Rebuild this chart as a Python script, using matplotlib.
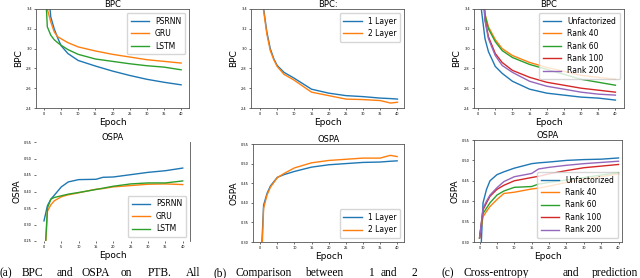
import matplotlib
matplotlib.use("Agg")
import matplotlib.pyplot as plt

# (a) PTB: BPC
ep_a = [0, 1, 2, 3, 4, 5, 7, 10, 15, 20, 25, 30, 35, 40]
psrnn_bpc = [4.2, 3.70, 3.32, 3.20, 3.11, 3.03, 2.95, 2.88, 2.824, 2.773, 2.729, 2.69, 2.66, 2.634]
gru_bpc = [4.0, 3.40, 3.27, 3.17, 3.12, 3.10, 3.06, 3.017, 2.976, 2.942, 2.915, 2.888, 2.871, 2.854]
lstm_bpc = [3.9, 3.22, 3.136, 3.09, 3.06, 3.034, 2.99, 2.942, 2.895, 2.871, 2.847, 2.827, 2.813, 2.786]

# (a) PTB: OSPA
ep_d = [0, 1, 2, 3, 5, 7, 10, 15, 17, 20, 25, 30, 35, 40]
psrnn_ospa = [0.311, 0.357, 0.377, 0.389, 0.414, 0.429, 0.436, 0.437, 0.443, 0.444, 0.451, 0.458, 0.463, 0.471]
gru_ospa = [0.15, 0.34, 0.36, 0.372, 0.384, 0.39, 0.396, 0.407, 0.409, 0.414, 0.418, 0.422, 0.423, 0.421]
lstm_ospa = [0.15, 0.35, 0.377, 0.382, 0.387, 0.392, 0.397, 0.406, 0.410, 0.416, 0.423, 0.426, 0.426, 0.432]

# (b) 1 vs 2 layers
ep_b = [0, 1, 2, 3, 4, 5, 7, 10, 15, 20, 25, 30, 35, 38, 40]
one_bpc = [4.2, 3.42, 3.17, 3.00, 2.90, 2.83, 2.76, 2.70, 2.59, 2.55, 2.525, 2.515, 2.50, 2.495, 2.49]
two_bpc = [4.2, 3.40, 3.15, 2.98, 2.89, 2.82, 2.74, 2.68, 2.56, 2.525, 2.49, 2.485, 2.475, 2.45, 2.458]

ep_e = [0, 1, 2, 3, 5, 7, 10, 15, 20, 25, 30, 35, 38, 40]
one_ospa = [0.2, 0.394, 0.424, 0.443, 0.465, 0.472, 0.48, 0.491, 0.497, 0.50, 0.503, 0.504, 0.506, 0.507]
two_ospa = [0.15, 0.386, 0.42, 0.44, 0.464, 0.475, 0.489, 0.502, 0.508, 0.511, 0.514, 0.514, 0.521, 0.518]

# (c) factorization rank
ep_c = [0, 1, 2, 3, 5, 7, 10, 15, 20, 25, 30, 35, 40]
unf_bpc = [4.0, 3.38, 3.10, 2.97, 2.82, 2.75, 2.67, 2.59, 2.55, 2.53, 2.51, 2.50, 2.48]
r40_bpc = [4.5, 3.80, 3.35, 3.22, 3.09, 3.00, 2.93, 2.86, 2.81, 2.77, 2.73, 2.71, 2.69]
r60_bpc = [4.5, 3.80, 3.34, 3.20, 3.07, 2.98, 2.91, 2.84, 2.79, 2.74, 2.69, 2.66, 2.63]
r100_bpc = [4.5, 3.80, 3.30, 3.12, 2.95, 2.86, 2.78, 2.71, 2.66, 2.63, 2.60, 2.58, 2.56]
r200_bpc = [4.5, 3.80, 3.28, 3.10, 2.93, 2.83, 2.76, 2.67, 2.62, 2.59, 2.56, 2.54, 2.53]

ep_f = [0, 1, 2, 3, 5, 7, 10, 15, 17, 20, 25, 30, 35, 40]
unf_ospa = [0.2, 0.396, 0.429, 0.45, 0.465, 0.472, 0.481, 0.492, 0.494, 0.496, 0.50, 0.502, 0.503, 0.506]
r40_ospa = [0.31, 0.362, 0.375, 0.387, 0.404, 0.419, 0.422, 0.43, 0.432, 0.437, 0.446, 0.454, 0.46, 0.467]
r60_ospa = [0.31, 0.37, 0.383, 0.396, 0.415, 0.425, 0.434, 0.436, 0.442, 0.446, 0.452, 0.458, 0.464, 0.47]
r100_ospa = [0.31, 0.379, 0.396, 0.412, 0.429, 0.439, 0.45, 0.458, 0.461, 0.467, 0.475, 0.482, 0.486, 0.49]
r200_ospa = [0.31, 0.383, 0.40, 0.415, 0.433, 0.448, 0.46, 0.468, 0.479, 0.483, 0.488, 0.492, 0.495, 0.498]

W, H = 640, 278


def rect(l, r, t, b):
    return [l / W, 1 - b / H, (r - l) / W, (b - t) / H]


fig = plt.figure(figsize=(6.4, 2.78), dpi=100)


def style(ax, title, ylabel, ylim, xlim, yticks):
    ax.set_title(title, fontsize=6, pad=1.5)
    ax.set_xlabel("Epoch", fontsize=6.5, labelpad=1)
    ax.set_ylabel(ylabel, fontsize=6.5, labelpad=2)
    ax.set_ylim(*ylim)
    ax.set_xlim(*xlim)
    ax.set_xticks(range(0, 41, 5))
    ax.set_yticks(yticks)
    ax.tick_params(labelsize=2.5, length=1.5, width=0.4, pad=1.5)
    for s in ax.spines.values():
        s.set_linewidth(0.6)
        s.set_color("#555555")


def legend(ax, loc):
    ax.legend(loc=loc, fontsize=5.5, handlelength=2.4, borderpad=0.5,
              labelspacing=0.45)


bpc_ticks = [2.4, 2.6, 2.8, 3.0, 3.2, 3.4]
ospa_ticks = [0.30, 0.35, 0.40, 0.45, 0.50, 0.55]
lw = 1.0

ax = fig.add_axes(rect(36, 189, 9, 108))
ax.plot(ep_a, psrnn_bpc, lw=lw, label="PSRNN")
ax.plot(ep_a, gru_bpc, lw=lw, label="GRU")
ax.plot(ep_a, lstm_bpc, lw=lw, label="LSTM")
style(ax, "BPC", "BPC", (2.4, 3.4), (-2.3, 42.3), bpc_ticks)
legend(ax, "upper right")

ax = fig.add_axes(rect(36, 190, 142, 241))
ax.plot(ep_d, psrnn_ospa, lw=lw, label="PSRNN")
ax.plot(ep_d, gru_ospa, lw=lw, label="GRU")
ax.plot(ep_d, lstm_ospa, lw=lw, label="LSTM")
style(ax, "OSPA", "OSPA", (0.25, 0.55), (-2.3, 42.1), [0.25] + ospa_ticks)
for side in ["left", "top", "bottom"]:
    ax.spines[side].set_visible(False)
legend(ax, "lower right")

ax = fig.add_axes(rect(251, 404, 9, 108))
ax.plot(ep_b, one_bpc, lw=lw, label="1 Layer")
ax.plot(ep_b, two_bpc, lw=lw, label="2 Layer")
style(ax, "BPC:", "BPC", (2.4, 3.4), (-2.6, 41.9), bpc_ticks)
legend(ax, "upper right")

ax = fig.add_axes(rect(253, 404, 144, 242))
ax.plot(ep_e, one_ospa, lw=lw, label="1 Layer")
ax.plot(ep_e, two_ospa, lw=lw, label="2 Layer")
style(ax, "OSPA", "OSPA", (0.30, 0.55), (-2.1, 42.0), ospa_ticks)
legend(ax, "lower right")

ax = fig.add_axes(rect(474, 624, 9, 108))
ax.plot(ep_c, unf_bpc, lw=lw, label="Unfactorized")
ax.plot(ep_c, r40_bpc, lw=lw, label="Rank 40")
ax.plot(ep_c, r60_bpc, lw=lw, label="Rank 60")
ax.plot(ep_c, r100_bpc, lw=lw, label="Rank 100")
ax.plot(ep_c, r200_bpc, lw=lw, label="Rank 200")
style(ax, "BPC", "BPC", (2.4, 3.4), (-1.2, 42.5), bpc_ticks)
legend(ax, "upper right")

ax = fig.add_axes(rect(474, 622, 140, 242))
ax.plot(ep_f, unf_ospa, lw=lw, label="Unfactorized")
ax.plot(ep_f, r40_ospa, lw=lw, label="Rank 40")
ax.plot(ep_f, r60_ospa, lw=lw, label="Rank 60")
ax.plot(ep_f, r100_ospa, lw=lw, label="Rank 100")
ax.plot(ep_f, r200_ospa, lw=lw, label="Rank 200")
style(ax, "OSPA", "OSPA", (0.30, 0.55), (-1.6, 41.0), ospa_ticks)
legend(ax, "lower right")

# figure caption (cut off at the bottom in the source image)
caption = [
    ("(a)", 0), ("BPC", 22), ("and", 57), ("OSPA", 82), ("on", 121), ("PTB.", 148), ("All", 186),
    ("(b)", 213), ("Comparison", 235), ("between", 305), ("1", 368), ("and", 381), ("2", 411),
    ("(c)", 442), ("Cross-entropy", 463), ("and", 563), ("prediction", 592),
]
for word, x in caption:
    fig.text(x / W, 1 - 276 / H, word, fontsize=8.3, family="Liberation Serif",
             va="baseline", ha="left")

fig.savefig("out.png", dpi=100)
